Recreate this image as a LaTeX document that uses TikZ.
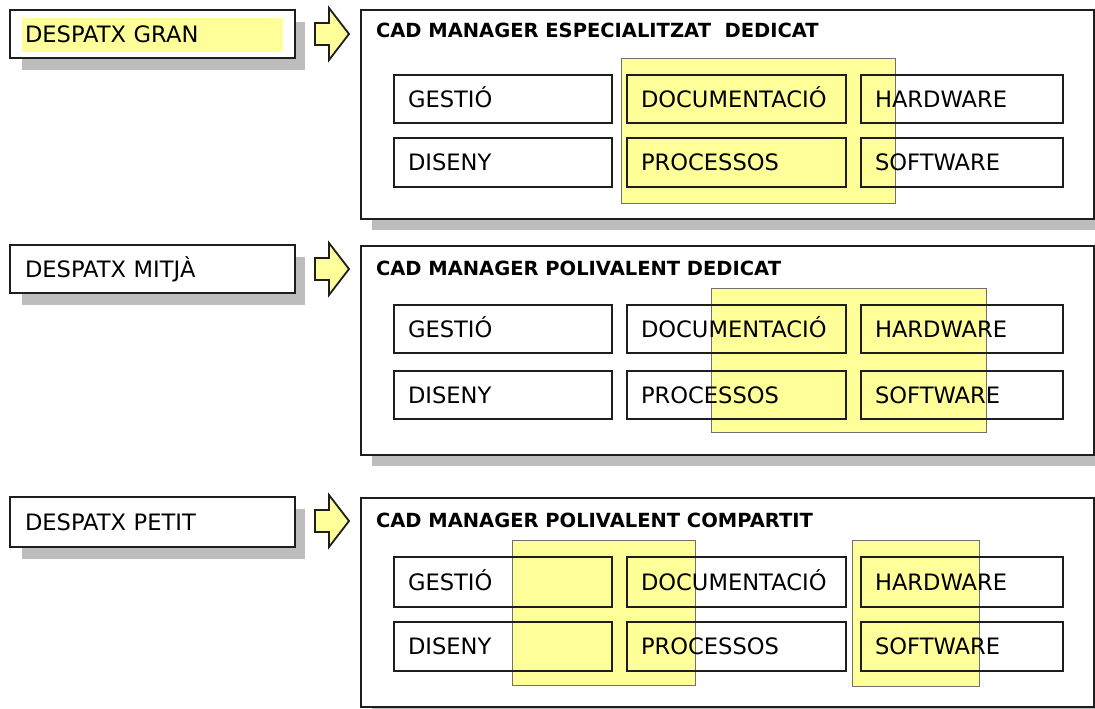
\documentclass[tikz,border=0pt]{standalone}
\usepackage{fontspec}
\setmainfont{DejaVu Sans}
\definecolor{hy}{HTML}{FFFF99}
\definecolor{ink}{HTML}{1E1E1E}
\definecolor{shadowgray}{HTML}{BDBDBD}
\definecolor{hyedge}{HTML}{707070}
\newcommand\cellfont{\fontsize{22.6pt}{27pt}\selectfont}
\newcommand\headfont{\fontsize{19.5pt}{23pt}\selectfont\bfseries}
\tikzset{
  every node/.style={inner sep=0pt, outer sep=0pt},
  shadowfill/.style={fill=shadowgray, draw=none},
  panel/.style={rectangle, draw=ink, line width=1.6pt, fill=white, anchor=north west, minimum width=733pt, minimum height=209pt},
  cell/.style={rectangle, draw=ink, line width=1.6pt, anchor=north west, align=left, inner xsep=14pt, inner ysep=0pt, text height=16.5pt, text depth=0pt, font=\cellfont, text=black},
  labelbox/.style={rectangle, draw=ink, line width=2pt, fill=white, anchor=north west, align=left, inner xsep=15pt, text width=255pt, minimum height=48pt, text height=16.5pt, text depth=0pt, font=\cellfont, text=black},
  overlay/.style={fill=hy, draw=hyedge, line width=0.8pt},
  blockarrow/.style={fill=hy, draw=ink, line width=1.8pt, line join=miter},
  heading/.style={anchor=base west, font=\headfont, text=black}
}
\newcommand\goarrow[2]{%
  \begin{scope}[shift={(0,#1)}]
    \draw[blockarrow] (315,-11) -- (329,-11) -- (329,-26) -- (349,0) -- (329,26) -- (329,11) -- (315,11) -- cycle;
    \coordinate (#2) at (349,0);
  \end{scope}}
\begin{document}
\begin{tikzpicture}[x=1pt,y=-1pt]
\useasboundingbox (0,0) rectangle (1095,709);
\clip (0,0) rectangle (1095,709);
\fill[white] (0,0) rectangle (1095,709);

% ---------- left labels ----------
\fill[shadowfill] (22,22) rectangle (305,70);
\fill[shadowfill] (22,257) rectangle (305,305);
\fill[shadowfill] (22,509) rectangle (305,559);
\node[labelbox, path picture={\fill[hy] ([shift={(12pt,-8pt)}]path picture bounding box.north west) rectangle ([shift={(-12pt,6pt)}]path picture bounding box.south east);}] (l1) at (10,10) {DESPATX GRAN};
\node[labelbox] (l2) at (10,245) {DESPATX MITJÀ};
\node[labelbox, minimum height=50pt] (l3) at (10,497) {DESPATX PETIT};

% ---------- arrows ----------
\goarrow{34}{a1}
\goarrow{269}{a2}
\goarrow{521}{a3}

% ---------- panel 1 ----------
\fill[shadowfill] (372,21) rectangle (1105,230);
\node[panel] (p1) at (361,10) {};
\draw[overlay] (621,58) rectangle (895,203);
\node[heading] (t1) at (376,38) {CAD MANAGER ESPECIALITZAT\ \ DEDICAT};
\node[cell, text width=190pt, minimum height=48pt] (g1) at (394,75) {GESTIÓ};
\node[cell, text width=191pt, minimum height=48pt] (d1) at (627,75) {DOCUMENTACIÓ};
\node[cell, text width=174pt, minimum height=48pt] (h1) at (861,75) {HARDWARE};
\node[cell, text width=190pt, minimum height=49pt] (s1) at (394,138) {DISENY};
\node[cell, text width=191pt, minimum height=49pt] (r1) at (627,138) {PROCESSOS};
\node[cell, text width=174pt, minimum height=49pt] (w1) at (861,138) {SOFTWARE};

% ---------- panel 2 ----------
\fill[shadowfill] (372,257) rectangle (1105,466);
\node[panel] (p2) at (361,246) {};
\draw[overlay] (711,288) rectangle (986,432);
\node[heading] (t2) at (376,275) {CAD MANAGER POLIVALENT DEDICAT};
\node[cell, text width=190pt, minimum height=48pt] (g2) at (394,305) {GESTIÓ};
\node[cell, text width=191pt, minimum height=48pt] (d2) at (627,305) {DOCUMENTACIÓ};
\node[cell, text width=174pt, minimum height=48pt] (h2) at (861,305) {HARDWARE};
\node[cell, text width=190pt, minimum height=48pt] (s2) at (394,371) {DISENY};
\node[cell, text width=191pt, minimum height=48pt] (r2) at (627,371) {PROCESSOS};
\node[cell, text width=174pt, minimum height=48pt] (w2) at (861,371) {SOFTWARE};

% ---------- panel 3 ----------
\fill[shadowfill] (372,509) rectangle (1105,718);
\node[panel] (p3) at (361,498) {};
\draw[overlay] (512,540) rectangle (695,685);
\draw[overlay] (852,540) rectangle (979,686);
\node[heading] (t3) at (376,527) {CAD MANAGER POLIVALENT COMPARTIT};
\node[cell, text width=190pt, minimum height=50pt] (g3) at (394,557) {GESTIÓ};
\node[cell, text width=191pt, minimum height=50pt] (d3) at (627,557) {DOCUMENTACIÓ};
\node[cell, text width=174pt, minimum height=50pt] (h3) at (861,557) {HARDWARE};
\node[cell, text width=190pt, minimum height=49pt] (s3) at (394,622) {DISENY};
\node[cell, text width=191pt, minimum height=49pt] (r3) at (627,622) {PROCESSOS};
\node[cell, text width=174pt, minimum height=49pt] (w3) at (861,622) {SOFTWARE};
\end{tikzpicture}
\end{document}
